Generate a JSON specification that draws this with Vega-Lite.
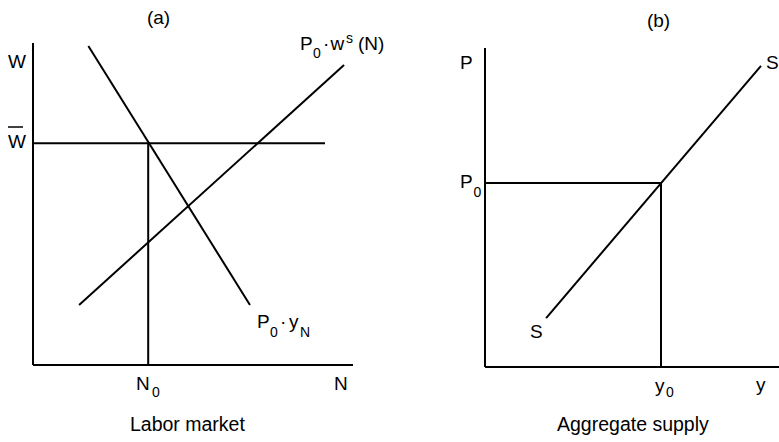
{
  "$schema": "https://vega.github.io/schema/vega-lite/v6.json",
  "padding": 0,
  "spacing": 0,
  "bounds": "flush",
  "background": "white",
  "config": {
    "view": {"stroke": null},
    "text": {"font": "Liberation Sans", "color": "black", "align": "left", "baseline": "alphabetic"},
    "rule": {"color": "black", "strokeCap": "butt"}
  },
  "datasets": {
    "linesA": [
      {"part": "wage axis", "x": 0, "y": 0, "x2": 0, "y2": 10.06},
      {"part": "employment axis", "x": 0, "y": 0, "x2": 10, "y2": 0},
      {"part": "fixed wage", "x": 0, "y": 6.93, "x2": 9.125, "y2": 6.93},
      {"part": "N0", "x": 3.6, "y": 0, "x2": 3.6, "y2": 6.93},
      {"part": "labour demand", "x": 1.73, "y": 9.97, "x2": 6.78, "y2": 1.875},
      {"part": "labour supply", "x": 1.44, "y": 1.875, "x2": 9.72, "y2": 9.375}
    ],
    "barA": [
      {"part": "bar over W", "x": -0.781, "y": 7.4375, "x2": -0.3125, "y2": 7.4375}
    ],
    "labelsA": [
      {"x": 3.56, "y": 10.656, "text": "(a)"},
      {"x": -0.781, "y": 9.281, "text": "W"},
      {"x": -0.781, "y": 6.781, "text": "W"},
      {"x": 8.344, "y": 9.844, "text": "P"},
      {"x": 9.06, "y": 9.844, "text": "·"},
      {"x": 9.3, "y": 9.844, "text": "w"},
      {"x": 10.156, "y": 9.844, "text": "(N)"},
      {"x": 7.0, "y": 1.156, "text": "P"},
      {"x": 7.72, "y": 1.156, "text": "·"},
      {"x": 8.0, "y": 1.156, "text": "y"},
      {"x": 3.22, "y": -0.781, "text": "N"},
      {"x": 9.406, "y": -0.781, "text": "N"}
    ],
    "subsA": [
      {"x": 8.75, "y": 9.594, "text": "0"},
      {"x": 9.78, "y": 10.0625, "text": "s"},
      {"x": 7.41, "y": 0.875, "text": "0"},
      {"x": 8.344, "y": 0.875, "text": "N"},
      {"x": 3.72, "y": -1.0, "text": "0"}
    ],
    "captionA": [
      {"x": 3.031, "y": -2.0625, "text": "Labor market"}
    ],
    "linesB": [
      {"part": "price axis", "x": 0, "y": 0, "x2": 0, "y2": 9.97},
      {"part": "output axis", "x": 0, "y": 0, "x2": 9.19, "y2": 0},
      {"part": "P0", "x": 0, "y": 5.75, "x2": 5.5, "y2": 5.75},
      {"part": "y0", "x": 5.5, "y": 0, "x2": 5.5, "y2": 5.75},
      {"part": "aggregate supply", "x": 1.91, "y": 1.53, "x2": 8.625, "y2": 9.41}
    ],
    "labelsB": [
      {"x": 5.06, "y": 10.625, "text": "(b)"},
      {"x": -0.781, "y": 9.3125, "text": "P"},
      {"x": -0.78, "y": 5.594, "text": "P"},
      {"x": 8.781, "y": 9.3125, "text": "S"},
      {"x": 1.406, "y": 0.906, "text": "S"},
      {"x": 5.3125, "y": -0.781, "text": "y"},
      {"x": 8.469, "y": -0.75, "text": "y"}
    ],
    "subsB": [
      {"x": -0.36, "y": 5.3125, "text": "0"},
      {"x": 5.656, "y": -0.9375, "text": "0"}
    ],
    "captionB": [
      {"x": 2.25, "y": -2.0, "text": "Aggregate supply"}
    ]
  },
  "hconcat": [
    {
      "width": 400,
      "height": 442,
      "layer": [
        {
          "data": {"name": "linesA"},
          "mark": {"type": "rule", "strokeWidth": 2},
          "encoding": {
            "x": {"field": "x", "type": "quantitative", "axis": null, "scale": {"domain": [-1.03125, 11.46875], "nice": false, "zero": false}},
            "y": {"field": "y", "type": "quantitative", "axis": null, "scale": {"domain": [-2.40625, 11.40625], "nice": false, "zero": false}},
            "x2": {"field": "x2"},
            "y2": {"field": "y2"}
          }
        },
        {
          "data": {"name": "barA"},
          "mark": {"type": "rule", "strokeWidth": 1.5},
          "encoding": {
            "x": {"field": "x", "type": "quantitative"},
            "y": {"field": "y", "type": "quantitative"},
            "x2": {"field": "x2"},
            "y2": {"field": "y2"}
          }
        },
        {
          "data": {"name": "labelsA"},
          "mark": {"type": "text", "fontSize": 19},
          "encoding": {
            "x": {"field": "x", "type": "quantitative"},
            "y": {"field": "y", "type": "quantitative"},
            "text": {"field": "text"}
          }
        },
        {
          "data": {"name": "subsA"},
          "mark": {"type": "text", "fontSize": 14},
          "encoding": {
            "x": {"field": "x", "type": "quantitative"},
            "y": {"field": "y", "type": "quantitative"},
            "text": {"field": "text"}
          }
        },
        {
          "data": {"name": "captionA"},
          "mark": {"type": "text", "fontSize": 19.5},
          "encoding": {
            "x": {"field": "x", "type": "quantitative"},
            "y": {"field": "y", "type": "quantitative"},
            "text": {"field": "text"}
          }
        }
      ]
    },
    {
      "width": 379,
      "height": 442,
      "layer": [
        {
          "data": {"name": "linesB"},
          "mark": {"type": "rule", "strokeWidth": 2},
          "encoding": {
            "x": {"field": "x", "type": "quantitative", "axis": null, "scale": {"domain": [-2.65625, 9.1875], "nice": false, "zero": false}},
            "y": {"field": "y", "type": "quantitative", "axis": null, "scale": {"domain": [-2.34375, 11.46875], "nice": false, "zero": false}},
            "x2": {"field": "x2"},
            "y2": {"field": "y2"}
          }
        },
        {
          "data": {"name": "labelsB"},
          "mark": {"type": "text", "fontSize": 19},
          "encoding": {
            "x": {"field": "x", "type": "quantitative"},
            "y": {"field": "y", "type": "quantitative"},
            "text": {"field": "text"}
          }
        },
        {
          "data": {"name": "subsB"},
          "mark": {"type": "text", "fontSize": 14},
          "encoding": {
            "x": {"field": "x", "type": "quantitative"},
            "y": {"field": "y", "type": "quantitative"},
            "text": {"field": "text"}
          }
        },
        {
          "data": {"name": "captionB"},
          "mark": {"type": "text", "fontSize": 19.5},
          "encoding": {
            "x": {"field": "x", "type": "quantitative"},
            "y": {"field": "y", "type": "quantitative"},
            "text": {"field": "text"}
          }
        }
      ]
    }
  ]
}
